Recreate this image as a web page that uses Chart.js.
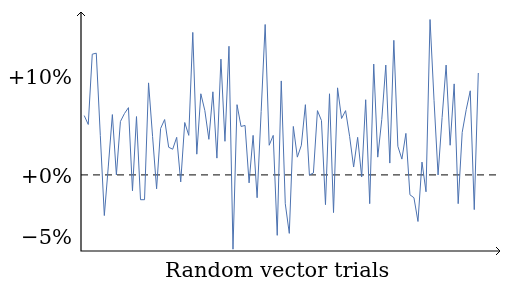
<!DOCTYPE html>
<html>
<head>
<meta charset="utf-8">
<script src="https://cdn.jsdelivr.net/npm/chart.js@4.4.1/dist/chart.umd.min.js"></script>
<style>
  html, body { margin: 0; padding: 0; background: #fff; }
  #wrap { width: 505px; height: 284px; }
</style>
</head>
<body>
<div id="wrap"><canvas id="myChart"></canvas></div>
<script>
// relative change per trial, in percent
const trialValues = [
  6.0, 5.1, 12.2, 12.3, 4.0, -4.1, 0.9, 6.1, 0.0, 5.4,
  6.2, 6.8, -1.6, 5.9, -2.5, -2.5, 9.3, 3.9, -1.4, 4.7,
  5.6, 2.8, 2.6, 3.8, -0.7, 5.3, 4.0, 14.4, 2.1, 8.2,
  6.5, 3.6, 8.4, 1.7, 11.7, 3.4, 13.0, -7.5, 7.1, 4.9,
  5.0, -0.8, 4.0, -2.3, 6.4, 15.2, 3.0, 4.0, -6.1, 9.5,
  -2.9, -5.9, 4.9, 1.8, 3.0, 7.1, 0.0, 0.2, 6.5, 5.5,
  -3.0, 8.2, -3.8, 8.8, 5.7, 6.5, 3.9, 0.8, 3.8, -0.2,
  7.6, -2.9, 11.2, 1.8, 5.6, 11.1, 1.2, 13.6, 2.9, 1.6,
  4.2, -2.0, -2.3, -4.7, 1.3, -1.7, 15.7, 7.5, 0.0, 5.8,
  11.1, 3.0, 9.2, -2.9, 4.3, 6.6, 8.5, -3.5, 10.3
];

// where the y tick labels sit, and what they say
const yTickValues = [10, 0, -6.1];
const yTickLabels = ["+10%", "+0%", "\u22125%"];

const xLabel = "Random vector trials";

const ctx = document.querySelector("#myChart");
const serif = "'DejaVu Serif', serif";

const points = trialValues.map((v, i) => ({ x: i, y: v }));

// dashed zero line + axis arrows
const axisDecor = {
    id: "axisDecor",
    beforeDatasetsDraw(chart) {
        const { ctx, chartArea, scales } = chart;
        const y0 = scales.y.getPixelForValue(0);
        ctx.save();
        ctx.strokeStyle = "#3a3a3a";
        ctx.lineWidth = 1.3;
        ctx.setLineDash([7, 5]);
        ctx.beginPath();
        ctx.moveTo(chartArea.left, y0);
        ctx.lineTo(chartArea.right, y0);
        ctx.stroke();
        ctx.restore();
    },
    afterDraw(chart) {
        const { ctx, chartArea } = chart;
        const l = chartArea.left, b = chartArea.bottom;
        const t = chartArea.top, r = chartArea.right;
        ctx.save();
        ctx.strokeStyle = "#000";
        ctx.lineWidth = 1.2;
        ctx.beginPath();
        ctx.moveTo(l, t);
        ctx.lineTo(l, b);
        ctx.lineTo(r, b);
        ctx.stroke();
        ctx.lineWidth = 1;
        ctx.beginPath();
        ctx.moveTo(l - 4, t + 4);
        ctx.lineTo(l, t);
        ctx.lineTo(l + 4, t + 4);
        ctx.moveTo(r - 4, b - 4);
        ctx.lineTo(r, b);
        ctx.lineTo(r - 4, b + 4);
        ctx.stroke();
        ctx.restore();
    }
};

let myChart = new Chart(ctx, {
    type: "line",
    data: {
        datasets: [{
            data: points,
            borderColor: "#4c72b0",
            borderWidth: 1,
            pointRadius: 0,
            tension: 0,
            fill: false
        }]
    },
    options: {
        responsive: true,
        maintainAspectRatio: false,
        animation: false,
        layout: { padding: { top: 12, right: 5, left: 0, bottom: 0 } },
        plugins: {
            legend: { display: false },
            tooltip: { enabled: false }
        },
        scales: {
            x: {
                type: "linear",
                min: -0.8,
                max: 103.4,
                grid: { display: false, drawTicks: false },
                border: { display: false },
                ticks: { display: false },
                title: {
                    display: true,
                    // trailing spaces nudge the centred label a bit left, like the original
                    text: xLabel + "\u00a0\u00a0\u00a0\u00a0",
                    color: "#000",
                    font: { family: serif, size: 21 },
                    padding: { top: 0, bottom: 0 }
                },
                afterFit(scale) {
                    scale.height = 33;
                    scale.paddingLeft = 0;
                    scale.paddingRight = 0;
                }
            },
            y: {
                min: -7.68,
                max: 16.46,
                grid: { display: false, drawTicks: false },
                border: { display: false },
                afterBuildTicks(scale) {
                    scale.ticks = yTickValues.map(v => ({ value: v }));
                },
                ticks: {
                    color: "#000",
                    padding: 9,
                    labelOffset: 3,
                    font: { family: serif, size: 21 },
                    callback: (v, i) => yTickLabels[i]
                },
                afterFit(scale) {
                    scale.width = 81;
                    scale.paddingTop = 0;
                    scale.paddingBottom = 0;
                }
            }
        }
    },
    plugins: [axisDecor]
});
</script>
</body>
</html>
